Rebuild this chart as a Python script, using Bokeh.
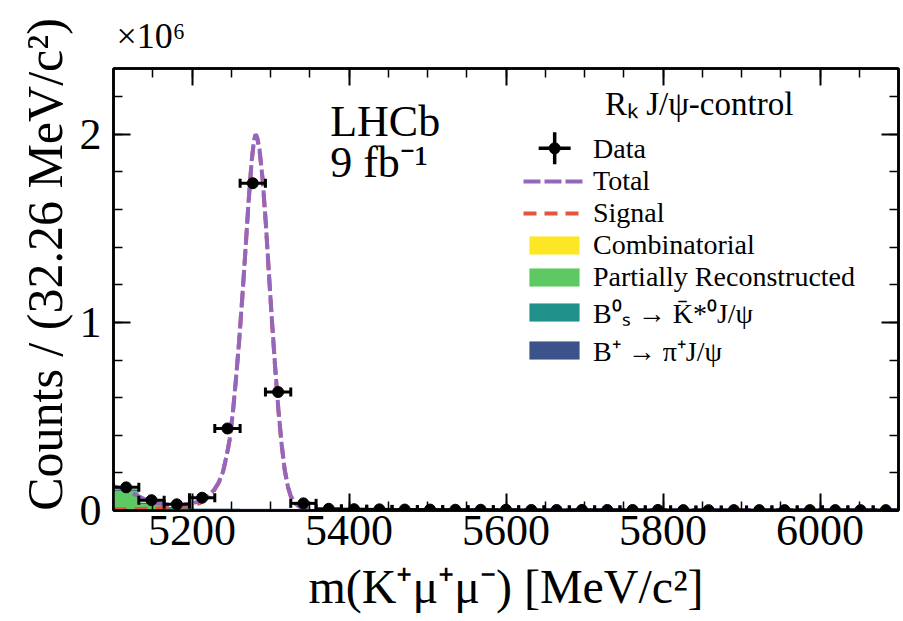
from bokeh.plotting import figure
from bokeh.models import (ColumnDataSource, Whisker, TeeHead, Legend, LegendItem, Label,
                          LinearAxis, FixedTicker, Range1d)
from bokeh.embed import file_html
from bokeh.resources import INLINE

# ---------------- data (counts in units of 10^6) ----------------
bin_lo = 5100.0
bin_hi = 6100.0
n_bins = 31
bin_width = (bin_hi - bin_lo) / n_bins  # 32.26 MeV/c^2

data_counts = [0.123, 0.055, 0.033, 0.068, 0.436, 1.740, 0.630, 0.038,
               0.009, 0.007, 0.006, 0.005, 0.005, 0.004, 0.004, 0.004,
               0.003, 0.003, 0.003, 0.003, 0.003, 0.003, 0.002, 0.002,
               0.002, 0.002, 0.002, 0.002, 0.002, 0.002, 0.002]

comb_counts = [0.002] * 31
partreco_counts = [0.106, 0.036, 0.012, 0.003, 0.001] + [0.0] * 26
bs_counts = [0.0, 0.0, 0.0, 0.002, 0.003, 0.003, 0.003, 0.002] + [0.0] * 23
bpi_counts = [0.0, 0.0, 0.0, 0.0, 0.002, 0.002, 0.002, 0.002] + [0.0] * 23

total_x = [5100, 5110, 5120, 5130, 5140, 5150, 5160, 5170, 5180, 5190, 5200, 5210,
           5220, 5228, 5234, 5239, 5244, 5248, 5252, 5256, 5260, 5264, 5268, 5272,
           5276, 5279, 5281, 5283, 5286, 5290, 5294, 5298, 5302, 5306, 5310, 5314,
           5318, 5322, 5326, 5332, 5340, 5350, 5360, 5400, 6100]
total_y = [0.130, 0.118, 0.100, 0.080, 0.060, 0.045, 0.036, 0.031, 0.030, 0.032,
           0.038, 0.050, 0.075, 0.110, 0.150, 0.200, 0.290, 0.380, 0.520, 0.700,
           0.900, 1.130, 1.380, 1.640, 1.860, 1.970, 2.000, 1.985, 1.920, 1.760,
           1.530, 1.260, 1.000, 0.760, 0.540, 0.360, 0.220, 0.130, 0.075, 0.035,
           0.015, 0.006, 0.003, 0.002, 0.002]

signal_x = [5100, 5120, 5140, 5160, 5180, 5200, 5210, 5220, 5228, 5234, 5239, 5244,
            5248, 5252, 5256, 5260, 5264, 5268, 5272, 5276, 5279, 5281, 5283, 5286,
            5290, 5294, 5298, 5302, 5306, 5310, 5314, 5318, 5322, 5326, 5332, 5340,
            5350, 5360, 5400, 6100]
signal_y = [0.006, 0.007, 0.009, 0.012, 0.017, 0.027, 0.040, 0.068, 0.105, 0.146,
            0.196, 0.286, 0.376, 0.516, 0.696, 0.896, 1.126, 1.376, 1.636, 1.856,
            1.966, 1.996, 1.981, 1.916, 1.756, 1.526, 1.256, 0.996, 0.756, 0.536,
            0.356, 0.217, 0.127, 0.072, 0.033, 0.013, 0.004, 0.001, 0.0, 0.0]

x_major = [5200, 5400, 5600, 5800, 6000]
x_minor = [5100 + 50 * i for i in range(21)]
y_major = [0, 1, 2]
y_minor = [0.2 * i for i in range(12)]

x_title = "m(K\u207a\u03bc\u207a\u03bc\u207b) [MeV/c\u00b2]"
y_title = "\u00a0\u00a0\u00a0\u00a0Counts / (32.26 MeV/c\u00b2)"

# position of the "Data" legend key (error-bar cross), in axis units
data_key_x = 5662
data_key_y = 1.926

# ---------------- figure ----------------
FONT = "Liberation Serif"

p = figure(width=903, height=621, output_backend="svg", toolbar_location=None,
           x_range=Range1d(bin_lo, bin_hi), y_range=Range1d(0, 2.35),
           min_border_left=113, min_border_right=5, min_border_top=68, min_border_bottom=111)
p.grid.visible = False
p.outline_line_color = "black"
p.outline_line_width = 2.5
p.background_fill_color = "white"
p.border_fill_color = "white"

bottom = p.below[0]
left = p.left[0]

centers = [bin_lo + (i + 0.5) * bin_width for i in range(n_bins)]

hist_src = ColumnDataSource(dict(x=centers, comb=comb_counts, prc=partreco_counts,
                                 bs=bs_counts, bpi=bpi_counts))
colors = ["#fde725", "#5ec962", "#21918c", "#3b528b"]
bars = p.vbar_stack(["comb", "prc", "bs", "bpi"], x="x", width=bin_width, source=hist_src,
                    fill_color=colors, line_color=colors, line_width=0.5)

sig_r = p.line(signal_x, signal_y, line_color="#e5553b", line_width=4, line_dash="13 8")
tot_r = p.line(total_x, total_y, line_color="#9467bd", line_width=4, line_dash="17 4")

data_src = ColumnDataSource(dict(x=centers, y=data_counts,
                                 xl=[c - bin_width / 2 for c in centers],
                                 xu=[c + bin_width / 2 for c in centers]))
wh = Whisker(source=data_src, base="y", lower="xl", upper="xu", dimension="width",
             line_color="black", line_width=3, level="glyph",
             upper_head=TeeHead(size=9, line_width=3, line_color="black"),
             lower_head=TeeHead(size=9, line_width=3, line_color="black"))
p.add_layout(wh)
data_r = p.scatter("x", "y", source=data_src, size=11, fill_color="black", line_color="black")

# legend key for the data (error-bar cross + dot)
p.scatter(x=[data_key_x], y=[data_key_y], marker="cross", size=32, line_width=3.5,
          line_color="black")
p.scatter(x=[data_key_x], y=[data_key_y], size=11, fill_color="black", line_color="black")

# ---------------- axes ----------------
bottom.ticker = FixedTicker(ticks=x_major, minor_ticks=x_minor)
left.ticker = FixedTicker(ticks=y_major, minor_ticks=y_minor)

right = LinearAxis(ticker=FixedTicker(ticks=y_major, minor_ticks=y_minor))
top = LinearAxis(ticker=FixedTicker(ticks=x_major, minor_ticks=x_minor))
p.add_layout(right, "right")
p.add_layout(top, "above")

for ax in [bottom, left, right, top]:
    ax.major_tick_in = 17
    ax.major_tick_out = 0
    ax.minor_tick_in = 9
    ax.minor_tick_out = 0
    ax.major_tick_line_width = 2
    ax.minor_tick_line_width = 1.5
    ax.axis_line_width = 2.5
    ax.major_label_text_font = FONT
    ax.major_label_text_font_size = "44px"
    ax.major_label_text_color = "black"
    ax.axis_label_text_font = FONT
    ax.axis_label_text_font_style = "normal"
    ax.axis_label_text_font_size = "48px"
    ax.axis_label_text_color = "black"

for ax in [right, top]:
    ax.major_label_text_font_size = "0px"
    ax.major_label_standoff = 0
    ax.major_label_text_alpha = 0

bottom.major_label_standoff = 5
bottom.axis_label = x_title
bottom.axis_label_standoff = 12
left.major_label_standoff = 12
left.axis_label = y_title
left.axis_label_standoff = 4
left.axis_label_text_font_size = "50px"

p.title.text = "\u00d710\u2076"
p.title.text_font = FONT
p.title.text_font_size = "36px"
p.title.text_font_style = "normal"
p.title.text_color = "black"
p.title.align = "left"
p.title.offset = 3
p.title.standoff = 25

# ---------------- texts ----------------
p.add_layout(Label(x=5376, y=2.07, text="LHCb", text_font=FONT, text_font_size="44px",
                   text_color="black", text_baseline="middle", text_align="left"))
p.add_layout(Label(x=5376, y=1.85, text="9 fb\u207b\u00b9", text_font=FONT, text_font_size="44px",
                   text_color="black", text_baseline="middle", text_align="left"))
p.add_layout(Label(x=5846, y=2.16, text="R\u2096 J/\u03c8-control", text_font=FONT,
                   text_color="black", text_font_size="33px", text_baseline="middle",
                   text_align="center"))

# ---------------- legend ----------------
items = [
    LegendItem(label="Data", renderers=[data_r]),
    LegendItem(label="Total", renderers=[tot_r]),
    LegendItem(label="Signal", renderers=[sig_r]),
    LegendItem(label="Combinatorial", renderers=[bars[0]]),
    LegendItem(label="Partially Reconstructed", renderers=[bars[1]]),
    LegendItem(label="B\u2070\u209b \u2192 K\u0304*\u2070J/\u03c8", renderers=[bars[2]]),
    LegendItem(label="B\u207a \u2192 \u03c0\u207aJ/\u03c8", renderers=[bars[3]]),
]
legend = Legend(items=items, location=(405, 136), glyph_width=62, glyph_height=22,
                label_height=28, spacing=0, padding=5, label_standoff=8,
                label_text_font=FONT, label_text_font_size="28px", label_text_color="black",
                background_fill_alpha=0, border_line_alpha=0)
p.add_layout(legend)

open("out.html", "w").write(file_html(p, INLINE))
